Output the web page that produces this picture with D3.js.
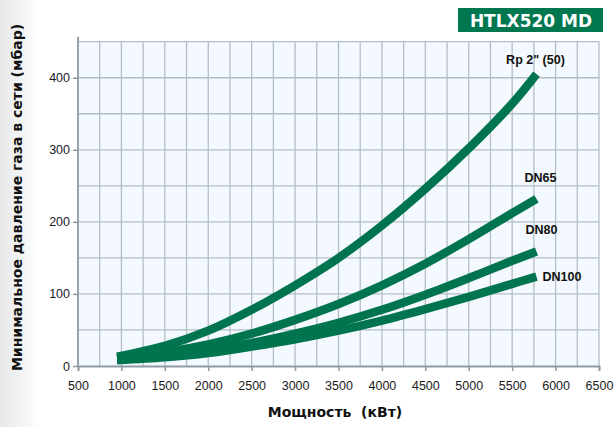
<!DOCTYPE html>
<html><head><meta charset="utf-8">
<script src="https://cdn.jsdelivr.net/npm/d3@7"></script>
<style>
html,body{margin:0;padding:0;background:#fff;}
svg{display:block;font-family:"Liberation Sans",Arial,sans-serif;}
</style></head>
<body>
<svg id="c" width="615" height="427"></svg>
<script>
const title = "HTLX520 MD";
const xLabel = "Мощность  (кВт)";
const yLabel = "Минимальное давление газа в сети (мбар)";
const power = [950, 1500, 2000, 2500, 3000, 3500, 4000, 4500, 5000, 5500, 5780];
const seriesNames = ['Rp 2" (50)', "DN65", "DN80", "DN100"];
const rp2 = [13, 28, 49, 78, 112, 150, 195, 246, 302, 364, 405];
const dn65 = [11, 19, 30, 45, 64, 86, 112, 142, 176, 212, 232];
const dn80 = [9, 14, 22, 32, 45, 60, 78, 99, 122, 146, 159];
const dn100 = [8, 12, 18, 27, 37, 49, 63, 79, 96, 114, 124];
const xTicks = [500,1000,1500,2000,2500,3000,3500,4000,4500,5000,5500,6000,6500];
const yTicks = [0,100,200,300,400];

(function(){
const svg = d3.select("#c");
const mL = 78, mR = 599, mT = 41.7, mB = 366;
const x = d3.scaleLinear().domain([500, 6500]).range([mL, mR]);
const y = d3.scaleLinear().domain([0, 450]).range([mB, mT]);

// subtle left shading
const defs = svg.append("defs");
const g1 = defs.append("linearGradient").attr("id","shade").attr("x1","0").attr("x2","1").attr("y1","0").attr("y2","0");
g1.append("stop").attr("offset","0").attr("stop-color","#e6e8ea");
g1.append("stop").attr("offset","1").attr("stop-color","#ffffff");
svg.append("rect").attr("x",0).attr("y",0).attr("width",40).attr("height",427).attr("fill","url(#shade)");

// plot background
svg.append("rect").attr("x",mL).attr("y",mT).attr("width",mR-mL).attr("height",mB-mT).attr("fill","#f3f9fe");

// grid
const grid = svg.append("g").attr("stroke","#b4bec5").attr("stroke-width",1.3);
d3.range(750, 6501, 250).forEach(v => {
  grid.append("line").attr("x1",x(v)).attr("x2",x(v)).attr("y1",mT).attr("y2",mB);
});
d3.range(50, 451, 50).forEach(v => {
  grid.append("line").attr("x1",mL).attr("x2",mR).attr("y1",y(v)).attr("y2",y(v));
});

// axes
const axCol = "#8f9ba3";
const xa = svg.append("g").attr("transform",`translate(0,${mB})`)
  .call(d3.axisBottom(x).tickValues(xTicks).tickSize(5).tickPadding(10).tickFormat(d3.format("d")));
const ya = svg.append("g").attr("transform",`translate(${mL},0)`)
  .call(d3.axisLeft(y).tickValues(yTicks).tickSize(5).tickPadding(3).tickFormat(d3.format("d")));
[xa, ya].forEach(a => {
  a.select(".domain").attr("stroke",axCol).attr("stroke-width",1.8);
  a.selectAll(".tick line").attr("stroke",axCol).attr("stroke-width",1.5);
  a.selectAll("text").attr("fill","#1a1a1a").attr("font-size",12.5)
    .attr("font-family",'"Liberation Sans",Arial,sans-serif');
});
ya.select(".domain").attr("d",`M0,${mB}V${mT-5}`);

// lines
const all = [rp2, dn65, dn80, dn100];
const line = d3.line().x((d,i)=>x(power[i])).y(d=>y(d)).curve(d3.curveCatmullRom.alpha(0.5));
const green = "#00734f";
svg.append("g").selectAll("path").data(all).join("path")
  .attr("d", d => line(d)).attr("fill","none").attr("stroke",green)
  .attr("stroke-width",8.5).attr("stroke-linecap","butt");

// series labels
const labPos = [
  {dx:-1, dy:-10, anchor:"middle"},
  {dx:4, dy:-17, anchor:"middle"},
  {dx:5, dy:-17, anchor:"middle"},
  {dx:6, dy:4, anchor:"start"}
];
seriesNames.forEach((n,i) => {
  const last = all[i][all[i].length-1];
  svg.append("text").attr("x", x(power[power.length-1]) + labPos[i].dx)
    .attr("y", y(last) + labPos[i].dy).attr("text-anchor", labPos[i].anchor)
    .attr("font-size",12.5).attr("font-weight","bold").attr("fill","#111").text(n);
});

// axis titles
svg.append("text").attr("x",335).attr("y",417).attr("text-anchor","middle")
  .style("white-space","pre")
  .attr("font-family",'"DejaVu Sans",sans-serif')
  .attr("font-size",14).attr("font-weight","bold").attr("fill","#111").text(xLabel);
svg.append("text").attr("transform",`translate(22,${(25+370)/2}) rotate(-90)`)
  .attr("font-family",'"DejaVu Sans",sans-serif')
  .attr("text-anchor","middle").attr("font-size",14).attr("font-weight","bold").attr("fill","#111").text(yLabel);

// title box
svg.append("rect").attr("x",458).attr("y",8).attr("width",145).attr("height",24).attr("fill","#00774f");
svg.append("text").attr("x",531).attr("y",26.5).attr("text-anchor","middle")
  .attr("font-family",'"DejaVu Sans",sans-serif')
  .attr("font-size",17).attr("font-weight","bold").attr("fill","#fff").text(title);
})();
</script>
</body></html>
